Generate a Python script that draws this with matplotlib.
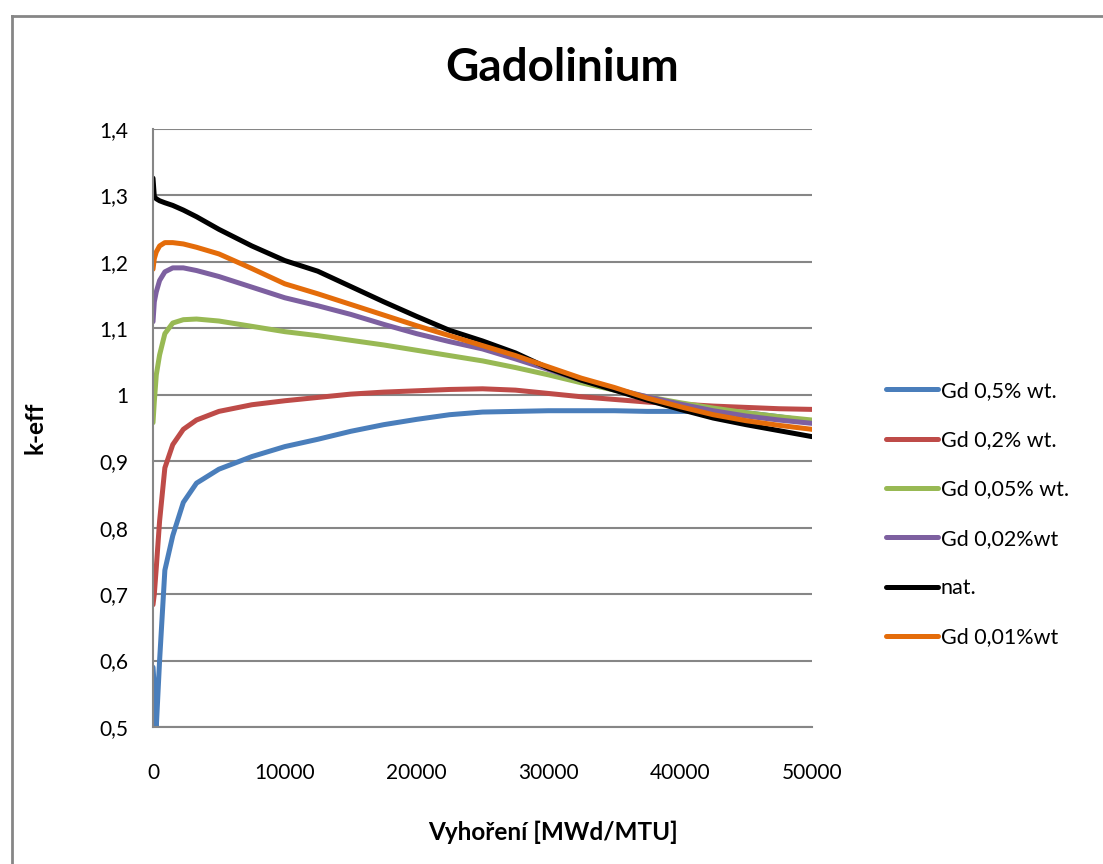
import matplotlib.pyplot as plt
from matplotlib.lines import Line2D

# burnup grid [MWd/MTU]
burnup = [0, 100, 250, 500, 900, 1500, 2300, 3300, 5000, 7500, 10000, 12500,
          15000, 17500, 20000, 22500, 25000, 27500, 30000, 32500, 35000,
          37500, 40000, 42500, 45000, 47500, 50000]

# k-eff per Gd content
gd_05 = [0.59, 0.56, 0.50, 0.60, 0.736, 0.788, 0.838, 0.867, 0.888, 0.907, 0.922, 0.933,
         0.945, 0.955, 0.963, 0.970, 0.974, 0.975, 0.976, 0.976, 0.976,
         0.975, 0.975, 0.975, 0.973, 0.967, 0.960]
gd_02 = [0.684, 0.70, 0.74, 0.81, 0.89, 0.925, 0.948, 0.962, 0.975, 0.985, 0.991, 0.996,
         1.001, 1.004, 1.006, 1.008, 1.009, 1.007, 1.002, 0.997, 0.993,
         0.989, 0.986, 0.983, 0.981, 0.979, 0.978]
gd_005 = [0.958, 0.99, 1.03, 1.06, 1.092, 1.108, 1.113, 1.114, 1.111, 1.103, 1.095, 1.089,
          1.082, 1.075, 1.067, 1.059, 1.051, 1.041, 1.030, 1.018, 1.007,
          0.997, 0.988, 0.980, 0.973, 0.967, 0.962]
gd_002 = [1.110, 1.14, 1.155, 1.172, 1.185, 1.191, 1.191, 1.187, 1.178, 1.162, 1.146, 1.134,
          1.121, 1.106, 1.092, 1.080, 1.069, 1.054, 1.038, 1.022, 1.009,
          0.997, 0.986, 0.976, 0.968, 0.962, 0.957]
nat = [1.326, 1.298, 1.295, 1.292, 1.289, 1.285, 1.278, 1.268, 1.249, 1.224, 1.202, 1.186,
       1.163, 1.140, 1.118, 1.097, 1.081, 1.063, 1.040, 1.022, 1.007,
       0.992, 0.978, 0.965, 0.955, 0.946, 0.937]
gd_001 = [1.189, 1.205, 1.215, 1.224, 1.229, 1.229, 1.227, 1.222, 1.212, 1.190, 1.167, 1.152,
          1.136, 1.120, 1.104, 1.089, 1.074, 1.059, 1.042, 1.025, 1.011,
          0.995, 0.982, 0.970, 0.961, 0.954, 0.948]

labels = ["Gd 0,5% wt.", "Gd 0,2% wt.", "Gd 0,05% wt.", "Gd 0,02%wt", "nat.", "Gd 0,01%wt"]
colors = ["#4A7EBB", "#BE4B48", "#98B954", "#7D60A0", "black", "#E46C0A"]

plt.rcParams['font.family'] = ['Lato', 'DejaVu Sans']

fig = plt.figure(figsize=(11.03, 8.64), dpi=100)
ax = fig.add_axes([153/1103, 1-727/864, (812-153)/1103, (727-129)/864])

series = [gd_05, gd_02, gd_005, gd_002, nat, gd_001]
for vals, lab, col in zip(series, labels, colors):
    ax.plot(burnup, vals, color=col, lw=3.6, label=lab, solid_capstyle='round',
            solid_joinstyle='round')

ax.set_xlim(0, 50000)
ax.set_ylim(0.5, 1.4)
ax.set_xticks([0, 10000, 20000, 30000, 40000, 50000])
ax.set_yticks([0.5, 0.6, 0.7, 0.8, 0.9, 1.0, 1.1, 1.2, 1.3, 1.4])
ax.set_yticklabels(["0,5", "0,6", "0,7", "0,8", "0,9", "1", "1,1", "1,2", "1,3", "1,4"])
ax.grid(axis='y', color='#868686', lw=1.5)
ax.set_axisbelow(True)
for s in ['top', 'right']:
    ax.spines[s].set_visible(False)
for s in ['left', 'bottom']:
    ax.spines[s].set_color('#868686')
    ax.spines[s].set_linewidth(1.5)
ax.tick_params(axis='y', length=0, pad=18, labelsize=15)
ax.tick_params(axis='x', length=0, pad=26, labelsize=15)

fig.text(0.51, 1-68/864, "Gadolinium", ha='center', va='center', fontsize=33, fontweight='bold')
fig.text(553/1103, 1-832/864, "Vyhoření [MWd/MTU]", ha='center', va='center', fontsize=17.5, fontweight='bold')
fig.text(35/1103, 1-428/864, "k-eff", ha='center', va='center', rotation=90, fontsize=17.5, fontweight='bold')

fig.legend(loc='upper left', bbox_to_anchor=(886/1103, 1-381/864), frameon=False,
           fontsize=15.5, handlelength=2.4, handletextpad=0.15, labelspacing=1.36,
           borderpad=0, borderaxespad=0)

# chart frame (left and top edges only are inside the picture)
fig.add_artist(Line2D([12/1103, 12/1103], [0, 1-16/864], transform=fig.transFigure,
                      color='#868686', lw=2))
fig.add_artist(Line2D([12/1103, 1], [1-16/864, 1-16/864], transform=fig.transFigure,
                      color='#868686', lw=2))

fig.savefig("out.png", dpi=100)
